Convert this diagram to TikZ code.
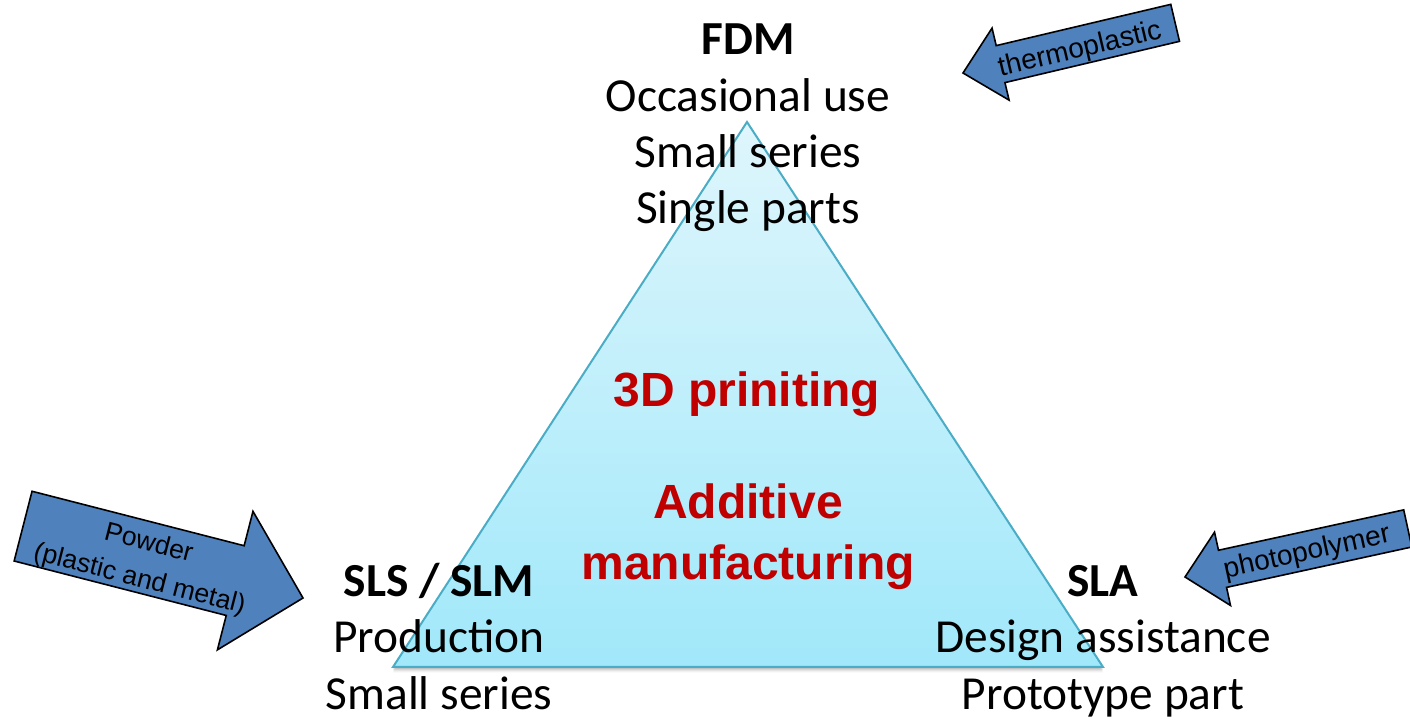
\documentclass[tikz,border=0pt]{standalone}
\usepackage{fontspec}
\setmainfont{Carlito}
\newfontfamily\arialfont{Liberation Sans}
\definecolor{amred}{HTML}{C00000}
\definecolor{arrowblue}{HTML}{4F81BD}
\definecolor{triedge}{HTML}{4BACC6}
\definecolor{tritop}{HTML}{DFF6FC}
\definecolor{tribottom}{HTML}{A0E8FA}
\begin{document}
\begin{tikzpicture}[x=0.5pt,y=-0.5pt,
  bodytext/.style={font=\fontsize{23.7}{28}\selectfont, anchor=base, inner sep=0pt},
  headtext/.style={font=\fontsize{23.7}{28}\selectfont\bfseries, anchor=base, inner sep=0pt},
  redtext/.style={font=\arialfont\bfseries\fontsize{24}{30}\selectfont, text=amred, anchor=base, inner sep=0pt},
  matarrow/.style={draw=black, line width=0.8pt, fill=arrowblue, line join=miter},
  arrowtext/.style={font=\arialfont\fontsize{14}{18.5}\selectfont, inner sep=0pt, align=center}]

\useasboundingbox (0,0) rectangle (1410,721);

% corners of the triangle
\coordinate (apex) at (747,122);
\coordinate (bl) at (393,667);
\coordinate (br) at (1103,667);

% soft shadow under the base
\foreach \d/\o in {1/0.10,2/0.09,3/0.07,4/0.05,5/0.035,6/0.02}
  \fill[black, opacity=\o] (747,{122+\d}) -- (393,{667+\d}) -- (1103,{667+\d}) -- cycle;

% the triangle
\path[top color=tritop, bottom color=tribottom, draw=triedge, line width=1pt, line join=miter]
  (apex) -- (bl) -- (br) -- cycle;

% top corner: FDM
\node[headtext] (fdm) at (748,55) {FDM};
\node[bodytext] (fdma) at (748,112) {Occasional use};
\node[bodytext] (fdmb) at (748,168) {Small series};
\node[bodytext] (fdmc) at (748,224) {Single parts};

% bottom left: SLS / SLM
\node[headtext] (sls) at (439,597) {SLS / SLM};
\node[bodytext] (slsa) at (439,653) {Production};
\node[bodytext] (slsb) at (439,710) {Small series};

% bottom right: SLA
\node[headtext] (sla) at (1103,597) {SLA};
\node[bodytext] (slaa) at (1103,653) {Design assistance};
\node[bodytext] (slab) at (1103,710) {Prototype part};

% centre titles
\node[redtext] (print) at (747,407) {3D priniting};
\node[redtext] (addi) at (748,519) {Additive};
\node[redtext] (manu) at (748,580) {manufacturing};

% block arrows: tip at the origin, body along +x
\begin{scope}[shift={(963,73)}, rotate=13.3]
  \path[matarrow] (0,0) -- (38.6,37) -- (38.6,19) -- (218,19) -- (218,-19)
    -- (38.6,-19) -- (38.6,-37) -- cycle;
\end{scope}
\node[arrowtext, rotate=13.3] (thermo) at (1080,50) {thermoplastic};

\begin{scope}[shift={(1185,577)}, rotate=12.3]
  \path[matarrow] (0,0) -- (38.4,37.5) -- (38.4,19) -- (228,19) -- (228,-19)
    -- (38.4,-19) -- (38.4,-37.5) -- cycle;
\end{scope}
\node[arrowtext, rotate=12.3] (photo) at (1307,553) {photopolymer};

\begin{scope}[shift={(303,598)}, rotate=165.6]
  \path[matarrow] (0,0) -- (70,71.5) -- (70,36) -- (289,36) -- (289,-36)
    -- (70,-36) -- (70,-71.5) -- cycle;
\end{scope}
\node[arrowtext, font=\arialfont\fontsize{13.3}{18.5}\selectfont, rotate=-14.4] (powder) at (144,562)
  {Powder\\(plastic and metal)};
\end{tikzpicture}
\end{document}
